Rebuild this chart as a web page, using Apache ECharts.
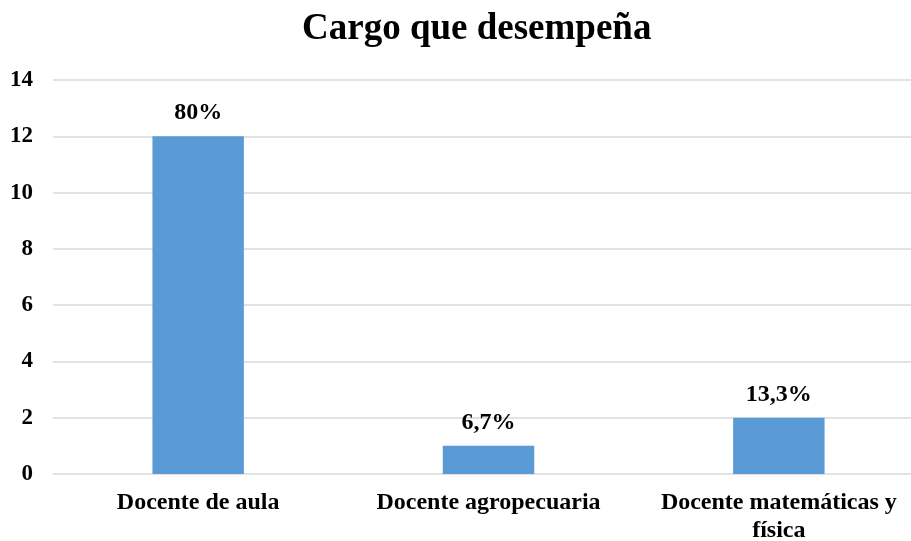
<!DOCTYPE html>
<html><head><meta charset="utf-8">
<script src="https://cdn.jsdelivr.net/npm/echarts@6/dist/echarts.min.js"></script>
<style>html,body{margin:0;padding:0;background:#fff;overflow:hidden}#c{width:924px;height:541px}</style>
</head><body><div id="c"></div>
<script>
const categories = ['Docente de aula', 'Docente agropecuaria', 'Docente matemáticas y\nfísica'];
const values = [12, 1, 2];
const percentLabels = ['80%', '6,7%', '13,3%'];
const yTicks = { min: 0, max: 14, interval: 2 };

const font = '"Liberation Serif", "Times New Roman", serif';
const chart = echarts.init(document.getElementById('c'));
chart.setOption({
  animation: false,
  title: {
    text: 'Cargo que desempeña', left: 297, top: 6,
    textStyle: { fontFamily: font, fontWeight: 'bold', fontSize: 37, color: '#000' }
  },
  grid: { left: 53, right: 0, top: 80, bottom: 67, containLabel: false, outerBoundsMode: 'none' },
  xAxis: {
    type: 'category', data: categories,
    axisLine: { show: false }, axisTick: { show: false },
    axisLabel: { interval: 0, margin: 15, fontFamily: font, fontWeight: 'bold', fontSize: 24, color: '#000', lineHeight: 28 }
  },
  yAxis: {
    type: 'value', min: yTicks.min, max: yTicks.max, interval: yTicks.interval,
    axisLine: { show: false }, axisTick: { show: false },
    axisLabel: { margin: 20, fontFamily: font, fontWeight: 'bold', fontSize: 23, color: '#000' },
    splitLine: { lineStyle: { color: '#d9d9d9', width: 1.5 } }
  },
  series: [{
    type: 'bar', data: values, barWidth: '31.5%',
    itemStyle: { color: '#5B9BD5' },
    label: {
      show: true, position: 'top', distance: 11,
      formatter: p => percentLabels[p.dataIndex],
      fontFamily: font, fontWeight: 'bold', fontSize: 24, color: '#000'
    }
  }]
});
</script></body></html>
